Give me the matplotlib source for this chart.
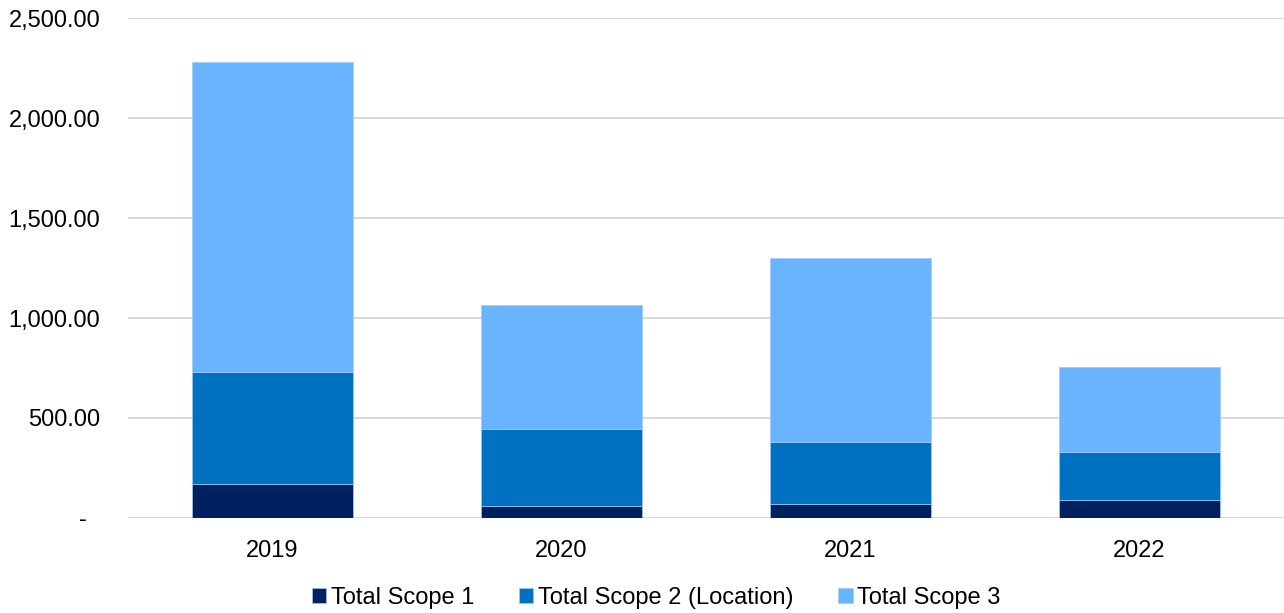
import matplotlib.pyplot as plt
from matplotlib.ticker import FuncFormatter
import numpy as np

plt.rcParams['font.family'] = ['Liberation Sans', 'DejaVu Sans']

years = ['2019', '2020', '2021', '2022']
scope1 = [172, 62, 68, 92]
scope2 = [558, 381, 314, 238]
scope3 = [1552, 624, 918, 423]

series = [
    ('Total Scope 1', scope1, '#002060'),
    ('Total Scope 2 (Location)', scope2, '#0070C0'),
    ('Total Scope 3', scope3, '#69B3FF'),
]


def fmt(v, pos):
    if v == 0:
        return '-  '
    return f'{v:,.2f}'


fig = plt.figure(figsize=(12.84, 6.13), dpi=100)
ax = fig.add_axes([128 / 1284, 95 / 613, 1156 / 1284, 500 / 613])

x = np.arange(len(years))
bottom = np.zeros(len(years))
for name, vals, color in series:
    ax.bar(x, vals, width=0.555, bottom=bottom, color=color, label=name,
           edgecolor='#9FCBF5', linewidth=0.5, zorder=3)
    bottom += np.array(vals)

ax.set_xlim(-0.5, len(years) - 0.5)
ax.set_ylim(0, 2500)
ax.set_yticks(np.arange(0, 2501, 500))
ax.yaxis.set_major_formatter(FuncFormatter(fmt))
ax.set_xticks(x)
ax.set_xticklabels(years)

ax.grid(axis='y', color='#D9D9D9', linewidth=1.5, zorder=0)
for s in ax.spines.values():
    s.set_visible(False)
ax.tick_params(axis='both', length=0, labelsize=17, colors='black')
ax.tick_params(axis='y', pad=20)
ax.tick_params(axis='x', pad=16)

ax.legend(loc='center', bbox_to_anchor=(0.5 - 0.043, -0.16), ncol=3,
          frameon=False, fontsize=17, handlelength=0.6, handleheight=0.6,
          handletextpad=0.2, columnspacing=1.9)

plt.savefig('out.png', dpi=100)
plt.close()
